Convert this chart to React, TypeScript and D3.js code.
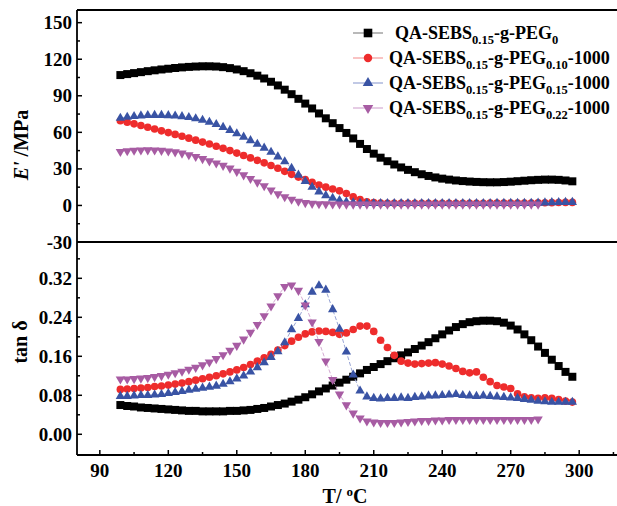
import React from 'react';
import * as d3 from 'd3';

const temps = [99,102,105,108,111,114,117,120,123,126,129,132,135,138,141,144,147,150,153,156,159,162,165,168,171,174,177,180,183,186,189,192,195,198,201,204,207,210,213,216,219,222,225,228,231,234,237,240,243,246,249,252,255,258,261,264,267,270,273,276,279,282,285,288,291,294,297];

// Storage modulus E' (MPa)
const blackE = [107.0,107.8,108.6,109.4,110.2,110.9,111.6,112.2,112.8,113.3,
  113.7,114.0,114.2,114.2,114.0,113.5,112.7,111.6,110.2,108.5,
  106.5,104.2,101.5,98.5,95.0,91.3,87.5,83.6,79.6,75.5,
  71.5,67.5,63.5,59.5,55.0,50.5,46.3,42.5,39.2,36.3,
  33.6,31.2,29.2,27.3,25.6,24.2,23.0,22.0,21.2,20.5,
  20.0,19.6,19.3,19.1,19.0,19.0,19.2,19.5,19.9,20.3,
  20.7,21.0,21.2,21.2,21.0,20.5,19.8];
const redE = [69.5,68.3,67.0,65.6,64.2,62.7,61.2,59.8,58.3,56.8,
  55.2,53.6,52.0,50.4,48.6,46.9,45.0,43.0,41.0,39.0,
  37.0,35.0,32.8,30.5,28.0,25.5,23.3,21.2,19.0,16.8,
  15.0,13.5,12.0,9.8,7.0,4.8,3.0,2.3,2.0,1.8,
  1.8,1.7,1.7,1.7,1.7,1.8,1.8,1.8,1.8,1.8,
  1.8,1.8,1.8,1.8,1.9,1.9,1.9,1.9,2.0,2.0,
  2.0,2.1,2.2,2.3,2.4,2.5,2.5];
const blueE = [71.7,72.5,73.1,73.6,73.9,74.0,74.0,73.8,73.5,73.0,
  72.3,71.3,70.0,68.4,66.5,64.2,61.7,59.0,56.2,53.3,
  50.3,47.2,43.8,40.0,36.0,30.5,25.0,19.8,15.0,11.3,
  8.2,6.0,4.2,3.0,2.3,2.0,1.8,1.7,1.7,1.7,
  1.7,1.7,1.7,1.7,1.7,1.7,1.7,1.7,1.7,1.7,
  1.7,1.7,1.7,1.7,1.7,1.8,1.8,1.8,1.8,1.8,
  1.9,2.0,2.2,2.4,2.5,2.6,2.6];
const purpleE = [44.2,44.8,45.2,45.4,45.5,45.4,45.1,44.6,43.8,42.8,
  41.5,40.0,38.3,36.5,34.7,32.8,30.5,27.8,25.0,22.0,
  19.0,16.0,12.5,9.5,7.0,5.0,3.3,2.2,1.6,1.3,
  1.2,1.1,1.1,1.0,1.0,1.0,1.0,1.0,1.0,1.0,
  1.0,1.0,1.0,1.0,1.0,1.0,1.0,1.0,1.0,1.0,
  1.0,1.0,1.0,1.0,1.0,1.0,1.0,1.0,1.0,1.0,
  1.0,1.0];

// tan delta
const blackT = [0.060,0.058,0.057,0.055,0.054,0.053,0.052,0.051,0.050,0.049,
  0.048,0.048,0.047,0.047,0.047,0.047,0.048,0.048,0.049,0.050,
  0.052,0.054,0.057,0.060,0.063,0.067,0.071,0.076,0.082,0.088,
  0.094,0.100,0.106,0.112,0.118,0.125,0.132,0.138,0.144,0.150,
  0.156,0.162,0.168,0.175,0.182,0.189,0.197,0.205,0.213,0.220,
  0.226,0.230,0.232,0.233,0.233,0.232,0.229,0.223,0.215,0.205,
  0.193,0.180,0.167,0.153,0.140,0.128,0.118];
const redT = [0.092,0.093,0.094,0.095,0.096,0.098,0.099,0.101,0.103,0.105,
  0.108,0.111,0.114,0.117,0.120,0.124,0.128,0.132,0.137,0.143,
  0.150,0.157,0.164,0.173,0.182,0.191,0.199,0.206,0.210,0.212,
  0.211,0.209,0.205,0.208,0.215,0.222,0.222,0.211,0.193,0.178,
  0.162,0.150,0.146,0.144,0.145,0.146,0.147,0.144,0.140,0.135,
  0.129,0.126,0.128,0.117,0.108,0.100,0.097,0.094,0.083,0.077,
  0.075,0.074,0.075,0.074,0.071,0.068,0.066];
const blueT = [0.078,0.078,0.079,0.080,0.080,0.081,0.082,0.084,0.086,0.088,
  0.091,0.093,0.095,0.097,0.099,0.103,0.108,0.114,0.120,0.128,
  0.137,0.147,0.158,0.170,0.188,0.215,0.238,0.266,0.292,0.305,
  0.296,0.256,0.216,0.169,0.122,0.089,0.077,0.074,0.073,0.074,
  0.074,0.075,0.074,0.076,0.077,0.079,0.079,0.080,0.081,0.082,
  0.080,0.079,0.078,0.079,0.078,0.077,0.076,0.075,0.074,0.072,
  0.070,0.068,0.067,0.066,0.066,0.066,0.066];
const purpleT = [0.113,0.113,0.114,0.115,0.116,0.118,0.120,0.123,0.126,0.129,
  0.133,0.137,0.142,0.148,0.155,0.163,0.172,0.182,0.195,0.209,
  0.225,0.243,0.263,0.284,0.303,0.306,0.295,0.265,0.230,0.190,
  0.150,0.112,0.082,0.060,0.043,0.033,0.027,0.025,0.024,0.024,
  0.024,0.025,0.026,0.027,0.028,0.028,0.029,0.029,0.030,0.030,
  0.030,0.030,0.030,0.030,0.030,0.030,0.030,0.030,0.030,0.030,
  0.030,0.031];

const xMajor = [90,120,150,180,210,240,270,300];
const xMinor = [105,135,165,195,225,255,285,315];
const eMajor = [-30,0,30,60,90,120,150];
const eMinor = [-15,15,45,75,105,135];
const tMajor = [0,0.08,0.16,0.24,0.32];
const tMinor = [0.04,0.12,0.20,0.28,0.36];

const seriesSubs = ['0', '0.10', '0.15', '0.22'];
const seriesTails = ['', '-1000', '-1000', '-1000'];

type S = { e: number[]; t: number[]; color: string; light: string; shape: string; size: number };
const series: S[] = [
  { e: blackE, t: blackT, color: '#000000', light: '#8a8a8a', shape: 'square', size: 64 },
  { e: redE, t: redT, color: '#EE2C2C', light: '#f59a9a', shape: 'circle', size: 46 },
  { e: blueE, t: blueT, color: '#3953A4', light: '#98a4d4', shape: 'up', size: 38 },
  { e: purpleE, t: purpleT, color: '#A75CA3', light: '#d4aad2', shape: 'down', size: 38 },
];

const FONT = '"Liberation Serif", "Times New Roman", serif';

function symbolPath(shape: string, size: number) {
  const type = shape === 'square' ? d3.symbolSquare : shape === 'circle' ? d3.symbolCircle : d3.symbolTriangle;
  return d3.symbol().type(type).size(size)() as string;
}

export default function App() {
  const W = 617, H = 506;
  const x = d3.scaleLinear().domain([80, 317]).range([77, 618]);
  const yTop = d3.scaleLinear().domain([-30, 160.4]).range([242, 10]);
  const yBot = d3.scaleLinear().domain([-0.0425, 0.3945]).range([455, 242]);
  const left = 77, right = 618;
  const fmtT = d3.format('.2f');

  const renderSeries = (vals: (s: S) => number[], y: d3.ScaleLinear<number, number>) =>
    series.map((s, i) => {
      const v = vals(s);
      const pts: [number, number][] = v.map((d, j) => [x(temps[j]), y(d)]);
      const line = d3.line()(pts) as string;
      const p = symbolPath(s.shape, s.size);
      return (
        <g key={i}>
          <path d={line} fill="none" stroke={s.light} strokeWidth={1} strokeDasharray="4,2" />
          {pts.map((pt, j) => (
            <path key={j} d={p} fill={s.color}
              transform={`translate(${pt[0]},${pt[1]})${s.shape === 'down' ? ' rotate(180)' : ''}`} />
          ))}
        </g>
      );
    });

  const legendRows = [33, 58, 83, 108];

  return (
    <svg width={W} height={H} style={{ position: 'absolute', left: 0, top: 0, background: '#fff' }}
      fontFamily={FONT} fontWeight="bold">
      <rect x={0} y={0} width={W} height={H} fill="#fff" />
      {renderSeries(s => s.e, yTop)}
      {renderSeries(s => s.t, yBot)}

      <g stroke="#000" strokeWidth={1.8} fill="none">
        <line x1={left} x2={right} y1={10} y2={10} />
        <line x1={left} x2={right} y1={242} y2={242} />
        <line x1={left} x2={right} y1={455} y2={455} />
        <line x1={left} x2={left} y1={10} y2={455} />
      </g>

      <g stroke="#000" strokeWidth={1.5}>
        {eMajor.map(v => <line key={'em' + v} x1={left} x2={left + 5} y1={yTop(v)} y2={yTop(v)} />)}
        {eMinor.map(v => <line key={'en' + v} x1={left} x2={left + 3} y1={yTop(v)} y2={yTop(v)} />)}
        {tMajor.map(v => <line key={'tm' + v} x1={left} x2={left + 5} y1={yBot(v)} y2={yBot(v)} />)}
        {tMinor.map(v => <line key={'tn' + v} x1={left} x2={left + 3} y1={yBot(v)} y2={yBot(v)} />)}
        {xMajor.map(v => <line key={'xm' + v} x1={x(v)} x2={x(v)} y1={455} y2={450} />)}
        {xMinor.map(v => <line key={'xn' + v} x1={x(v)} x2={x(v)} y1={455} y2={452} />)}
      </g>

      <g fontSize={19} fill="#000">
        {eMajor.map(v => (
          <text key={'el' + v} x={72} y={yTop(v) + 6.5} textAnchor="end">{v}</text>
        ))}
        {tMajor.map(v => (
          <text key={'tl' + v} x={72} y={yBot(v) + 6.5} textAnchor="end">{fmtT(v)}</text>
        ))}
        {xMajor.map(v => (
          <text key={'xl' + v} x={x(v)} y={477} textAnchor="middle">{v}</text>
        ))}
      </g>

      <text x={345} y={503} textAnchor="middle" fontSize={20}>
        T/ <tspan fontSize={13} dy={-7}>o</tspan><tspan dy={7}>C</tspan>
      </text>
      <text transform="translate(28,145) rotate(-90)" textAnchor="middle" fontSize={20}>
        <tspan fontStyle="italic">E'</tspan> /MPa
      </text>
      <text transform="translate(27,342) rotate(-90)" textAnchor="middle" fontSize={20}>
        tan δ
      </text>

      {series.map((s, i) => {
        const ly = legendRows[i];
        const p = symbolPath(s.shape, s.size + 10);
        return (
          <g key={'lg' + i}>
            <line x1={353} x2={383} y1={ly} y2={ly} stroke={s.light} strokeWidth={1.2} />
            <path d={p} fill={s.color}
              transform={`translate(368,${ly})${s.shape === 'down' ? ' rotate(180)' : ''}`} />
            <text x={i === 0 ? 395 : 389} y={ly + 6} fontSize={18} fill="#000">
              QA-SEBS<tspan fontSize={12.5} dy={5}>0.15</tspan>
              <tspan dy={-5}>-g-PEG</tspan>
              <tspan fontSize={12.5} dy={5}>{seriesSubs[i]}</tspan>
              {seriesTails[i] ? <tspan dy={-5}>{seriesTails[i]}</tspan> : null}
            </text>
          </g>
        );
      })}
    </svg>
  );
}
